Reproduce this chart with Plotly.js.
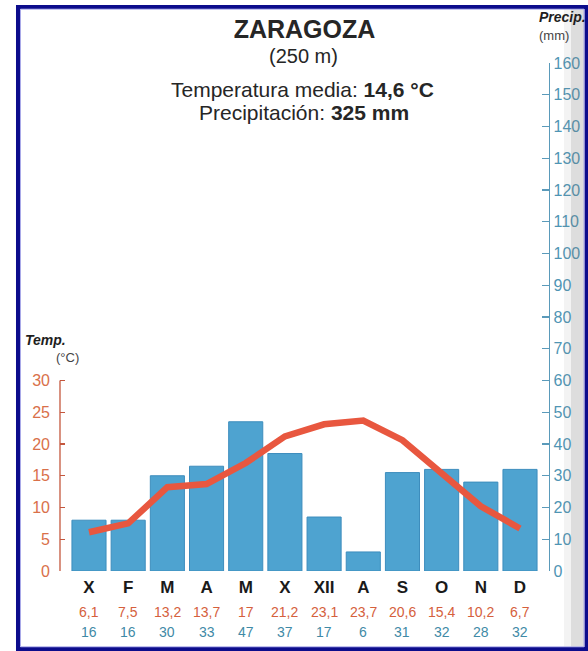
<!DOCTYPE html>
<html>
<head>
<meta charset="utf-8">
<script src="https://cdn.plot.ly/plotly-3.0.1.min.js"></script>
<style>
  html, body { margin: 0; padding: 0; background: #ffffff; }
  #chart { width: 588px; height: 651px; }
</style>
</head>
<body>
<div id="chart"></div>
<script>
// ---- data ----
const months = ["X", "F", "M", "A", "M", "X", "XII", "A", "S", "O", "N", "D"];
const temperature = [6.1, 7.5, 13.2, 13.7, 17, 21.2, 23.1, 23.7, 20.6, 15.4, 10.2, 6.7];
const precipitation = [16, 16, 30, 33, 47, 37, 17, 6, 31, 32, 28, 32];
const tempTicks = [0, 5, 10, 15, 20, 25, 30];
const precipTicks = [0, 10, 20, 30, 40, 50, 60, 70, 80, 90, 100, 110, 120, 130, 140, 150, 160];
const station = "ZARAGOZA";
const altitude = "(250 m)";
const meanTemp = "14,6 °C";
const totalPrecip = "325 mm";

const idx = months.map((m, i) => i);
const fmt = v => String(v).replace('.', ',');

const FONT = "Liberation Sans, Arial, Helvetica, sans-serif";
const ORANGE = "#d9704a";
const RED_AXIS = "#c4573d";
const TEAL = "#4f95b4";
const TEAL_AXIS = "#5a9aba";
const TXT = "#262626";

const bars = {
  type: "bar",
  x: idx,
  y: precipitation,
  yaxis: "y",
  marker: { color: "#4ea3d0", line: { color: "#3d8dbd", width: 1 } },
  hoverinfo: "skip"
};
const line = {
  type: "scatter",
  mode: "lines",
  x: idx,
  y: temperature,
  yaxis: "y2",
  line: { color: "#e8573f", width: 6.5, shape: "linear" },
  hoverinfo: "skip"
};

const annotations = [];
temperature.forEach((t, i) => annotations.push({
  x: i, xref: "x", y: -0.0807, yref: "paper", yanchor: "middle",
  text: fmt(t), showarrow: false,
  font: { family: FONT, size: 14, color: "#d5603c" }
}));
precipitation.forEach((p, i) => annotations.push({
  x: i, xref: "x", y: -0.120, yref: "paper", yanchor: "middle",
  text: String(p), showarrow: false,
  font: { family: FONT, size: 14, color: "#3f8aa6" }
}));
annotations.push(
  { x: 0.4986, xref: "paper", y: 1.0138, yref: "paper", yanchor: "middle", text: altitude, showarrow: false,
    font: { family: FONT, size: 20, color: TXT } },
  { x: 0.4966, xref: "paper", y: 0.9469, yref: "paper", yanchor: "middle", text: "Temperatura media: <b>" + meanTemp + "</b>",
    showarrow: false, font: { family: FONT, size: 21, color: TXT } },
  { x: 0.4986, xref: "paper", y: 0.9016, yref: "paper", yanchor: "middle", text: "Precipitación: <b>" + totalPrecip + "</b>",
    showarrow: false, font: { family: FONT, size: 21, color: TXT } },
  { x: -0.0757, xref: "paper", xanchor: "left", y: 0.4547, yref: "paper", yanchor: "middle", text: "<b><i>Temp.</i></b>",
    showarrow: false, font: { family: FONT, size: 14, color: "#1e1e1e" } },
  { x: -0.0123, xref: "paper", y: 0.4193, yref: "paper", yanchor: "middle", text: "(°C)",
    showarrow: false, font: { family: FONT, size: 13, color: "#444" } },
  { x: 0.9755, xref: "paper", xanchor: "left", y: 1.0906, yref: "paper", yanchor: "middle", text: "<b><i>Precip.</i></b>",
    showarrow: false, font: { family: FONT, size: 14, color: "#1e1e1e" } },
  { x: 0.9755, xref: "paper", xanchor: "left", y: 1.0551, yref: "paper", yanchor: "middle", text: "(mm)",
    showarrow: false, font: { family: FONT, size: 13, color: "#444" } }
);

const shapes = [
  // temperature axis line (only 0-30)
  { type: "line", xref: "paper", yref: "y2", x0: 0, x1: 0, y0: 0, y1: 30,
    line: { color: RED_AXIS, width: 1.3 } },
  // scanned page shadow at right edge
  { type: "rect", xref: "paper", yref: "paper", x0: 1.0307, x1: 1.0450, y0: -0.1535, y1: 1.1102,
    line: { width: 0 }, fillcolor: "rgba(140,140,140,0.10)", layer: "above" },
  { type: "rect", xref: "paper", yref: "paper", x0: 1.0450, x1: 1.0730, y0: -0.1535, y1: 1.1102,
    line: { width: 0 }, fillcolor: "rgba(120,120,120,0.25)", layer: "above" },
  // frame border
  { type: "rect", xref: "paper", yref: "paper", x0: -0.0859, x1: 1.0767, y0: -0.1535, y1: 1.1102,
    line: { color: "#0c0c8c", width: 4 }, layer: "above" },
  { type: "rect", xref: "paper", yref: "paper", x0: -0.0808, x1: 1.0716, y0: -0.1492, y1: 1.1059,
    line: { color: "#a8a8e8", width: 1 }, layer: "above" }
];

const layout = {
  width: 588, height: 651,
  margin: { l: 60, r: 39, t: 63, b: 80 },
  paper_bgcolor: "#ffffff",
  plot_bgcolor: "rgba(0,0,0,0)",
  showlegend: false,
  bargap: 0.13,
  font: { family: FONT },
  title: {
    text: "<b>" + station + "</b>",
    x: 0.5, xref: "paper", xanchor: "center",
    y: 1 - 29 / 651, yref: "container", yanchor: "middle",
    font: { family: FONT, size: 25, color: TXT }
  },
  xaxis: {
    range: [-0.74, 11.74],
    tickvals: idx, ticktext: months,
    showgrid: false, zeroline: false, showline: false, ticks: "",
    tickfont: { family: FONT, size: 17, color: "#1a1a1a", weight: "bold" },
    ticklabelstandoff: 4,
    fixedrange: true
  },
  yaxis: {
    side: "right",
    range: [0, 160],
    tickvals: precipTicks,
    ticks: "inside", ticklen: 7, tickwidth: 1.3, tickcolor: TEAL_AXIS,
    showline: true, linecolor: TEAL_AXIS, linewidth: 1.3,
    showgrid: false, zeroline: false,
    tickfont: { family: FONT, size: 16, color: TEAL },
    ticklabelstandoff: 0,
    fixedrange: true
  },
  yaxis2: {
    overlaying: "y", side: "left",
    range: [0, 80],
    tickvals: tempTicks,
    ticks: "inside", ticklen: 5, tickwidth: 1.3, tickcolor: RED_AXIS,
    showline: false, showgrid: false, zeroline: false,
    tickfont: { family: FONT, size: 16, color: ORANGE },
    ticklabelstandoff: 9,
    fixedrange: true
  },
  annotations: annotations,
  shapes: shapes
};

Plotly.newPlot("chart", [bars, line], layout, { staticPlot: true, displayModeBar: false });
</script>
</body>
</html>
